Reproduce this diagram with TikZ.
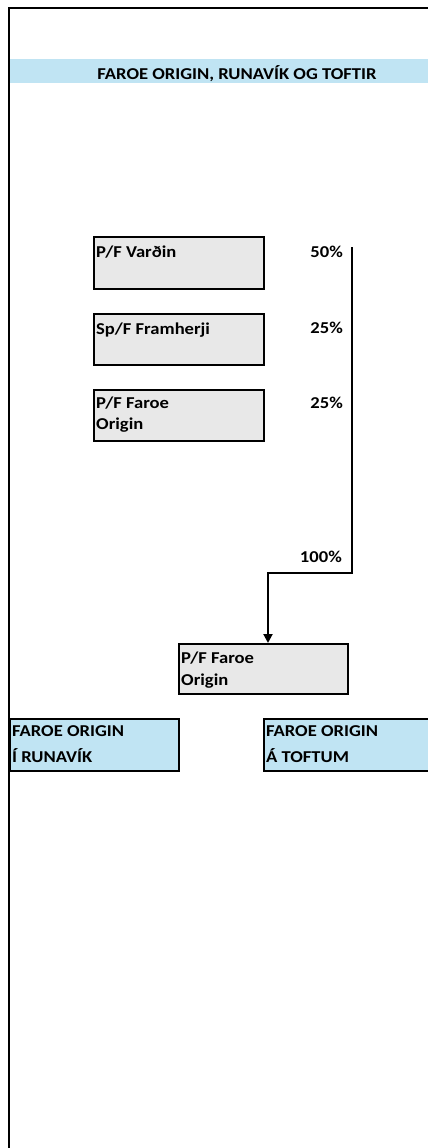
\documentclass[tikz,border=0pt]{standalone}
\usepackage{fontspec}
\setmainfont{Carlito}[FakeStretch=1.12]
\usetikzlibrary{arrows.meta,calc}
\definecolor{hdrblue}{RGB}{192,228,243}
\definecolor{boxgray}{RGB}{232,232,232}
\tikzset{
  txt/.style={font=\fontsize{16.6}{21}\selectfont\bfseries, inner sep=0pt},
  gbox/.style={draw=black, line width=2pt, fill=boxgray, anchor=north west, inner sep=0pt},
  bbox/.style={draw=black, line width=2pt, fill=hdrblue, anchor=north west, inner sep=0pt},
  pct/.style={txt, anchor=base east},
  lbl/.style={txt, anchor=base west},
  conn/.style={line width=2pt, draw=black},
}
\newcommand{\twoline}[3]{\parbox[t]{#1}{\baselineskip=#2 #3}}
\begin{document}
\begin{tikzpicture}[x=1pt,y=-1pt]
\useasboundingbox (0,0) rectangle (428,1148);
% header band
\fill[hdrblue] (10,59) rectangle (428,83);
\node[txt, anchor=base] (hdr) at (237,80) {FAROE ORIGIN, RUNAVÍK OG TOFTIR};
% frame
\draw[line width=2.5pt] (9,1148) -- (9,8) -- (428,8);
% grey boxes
\node[gbox, minimum width=170pt, minimum height=52pt] (vardin) at (93,236) {};
\node[lbl] (tvardin) at ($(vardin.north west)+(3,21)$) {P/F Varðin};
\node[gbox, minimum width=170pt, minimum height=51pt] (fram) at (93,313) {};
\node[lbl] (tfram) at ($(fram.north west)+(3,21)$) {Sp/F Framherji};
\node[gbox, minimum width=170pt, minimum height=51pt] (fo1) at (93,389) {};
\node[lbl] (tfo1) at ($(fo1.north west)+(3,19)$) {\twoline{160pt}{21pt}{P/F Faroe\\Origin}};
% percentages
\node[pct] (p1) at (343,257) {50\%};
\node[pct] (p2) at (343,333) {25\%};
\node[pct] (p3) at (343,408) {25\%};
\node[pct] (p4) at (342,562) {100\%};
% bottom grey box
\node[gbox, minimum width=169pt, minimum height=50pt] (fo2) at (178,643) {};
\node[lbl] (tfo2) at ($(fo2.north west)+(3,20)$) {\twoline{160pt}{22pt}{P/F Faroe\\Origin}};
% connector
\coordinate (ctop) at (352,247);
\coordinate (cbend) at (352,573);
\coordinate (cx) at (268,573);
\draw[conn, -{Triangle[width=9pt,length=9pt]}] (ctop) -- (cbend) -- (cx) -- (cx |- fo2.north);
% blue boxes
\node[bbox, minimum width=169pt, minimum height=52pt] (run) at (9,718) {};
\node[lbl] (trun) at ($(run.north west)+(3,18)$) {\twoline{160pt}{26pt}{FAROE ORIGIN\\Í RUNAVÍK}};
\node[bbox, minimum width=166pt, minimum height=52pt] (tof) at (263,718) {};
\node[lbl] (ttof) at ($(tof.north west)+(3,18)$) {\twoline{160pt}{26pt}{FAROE ORIGIN\\Á TOFTUM}};
\end{tikzpicture}
\end{document}
